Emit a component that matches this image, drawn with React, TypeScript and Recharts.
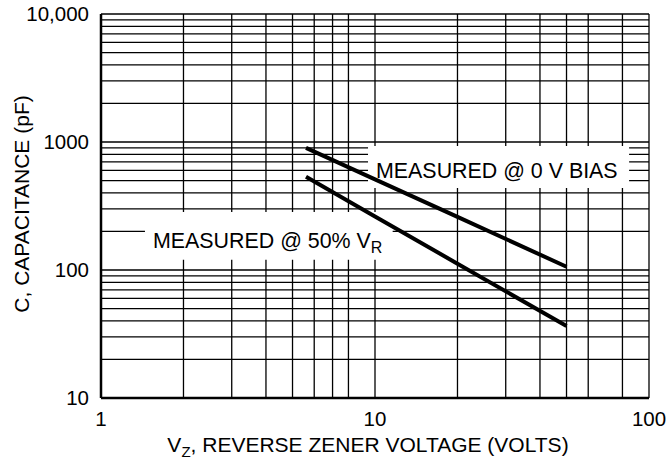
import { CartesianGrid, Line, LineChart, ReferenceArea, XAxis, YAxis } from "recharts";

const FONT = "'Liberation Sans', Arial, sans-serif";

// readings
const voltage = [5.6, 10, 20, 50];
const cap0V = [900, 510, 260, 106];
const cap50 = [536, 262, 112, 36.5];

const xTicks = [1, 10, 100];
const yTicks = [10, 100, 1000, 10000];

// log grid: 1..9 in each decade
const steps = [2, 3, 4, 5, 6, 7, 8, 9, 10];
const xGrid = [1, 10].flatMap((d) => steps.map((s) => s * d));
const yGrid = [10, 100, 1000].flatMap((d) => steps.map((s) => s * d));

const upper = voltage.map((v, i) => ({ v, c: cap0V[i] }));
const lower = voltage.map((v, i) => ({ v, c: cap50[i] }));

const fmtY = (v: number) => (v === 10000 ? "10,000" : String(v));

export default function App() {
  return (
    <div style={{ position: "absolute", left: 0, top: 0, background: "#fff" }}>
      <LineChart width={666} height={459} margin={{ top: 14, right: 17, bottom: 1, left: 41 }}>
        <CartesianGrid stroke="#000" strokeWidth={1.3} yAxisId="grid" verticalValues={xGrid} />
        <XAxis
          type="number"
          dataKey="v"
          scale="log"
          domain={[1, 100]}
          ticks={xTicks}
          allowDataOverflow
          height={60}
          tickLine={false}
          tickSize={0}
          tickMargin={13}
          axisLine={{ stroke: "#000", strokeWidth: 2.5 }}
          tick={{ fontSize: 20.5, fill: "#000", fontFamily: FONT }}
          label={{
            content: ({ viewBox }: any) => (
              <text
                x={viewBox.x + viewBox.width / 2 - 7}
                y={viewBox.y + 54}
                textAnchor="middle"
                fontSize={21}
                fontFamily={FONT}
                fill="#000"
              >
                V<tspan fontSize={15} dy={5}>Z</tspan>
                <tspan dy={-5}>, REVERSE ZENER VOLTAGE (VOLTS)</tspan>
              </text>
            ),
          }}
        />
        <YAxis
          yAxisId="grid"
          type="number"
          scale="log"
          domain={[10, 10000]}
          ticks={yGrid}
          interval={0}
          allowDataOverflow
          hide
        />
        <YAxis
          type="number"
          scale="log"
          domain={[10, 10000]}
          ticks={yTicks}
          allowDataOverflow
          width={60}
          tickLine={false}
          tickSize={0}
          tickMargin={12}
          tickFormatter={fmtY}
          axisLine={{ stroke: "#000", strokeWidth: 2.5 }}
          tick={{ fontSize: 20.5, fill: "#000", fontFamily: FONT }}
          label={{
            content: ({ viewBox }: any) => {
              const x = viewBox.x - 12;
              const y = viewBox.y + viewBox.height / 2 - 2;
              return (
                <text
                  x={x}
                  y={y}
                  transform={`rotate(-90 ${x} ${y})`}
                  textAnchor="middle"
                  fontSize={21}
                  fontFamily={FONT}
                  fill="#000"
                >
                  C, CAPACITANCE (pF)
                </text>
              );
            },
          }}
        />
        <ReferenceArea
          x1={9.43}
          x2={84.6}
          y1={437}
          y2={931}
          fill="#fff"
          fillOpacity={1}
          stroke="none"
          label={{
            content: ({ viewBox }: any) => (
              <text x={viewBox.x + 8} y={viewBox.y + 32} fontSize={21.4} fontFamily={FONT} fill="#000">
                MEASURED @ 0 V BIAS
              </text>
            ),
          }}
        />
        <ReferenceArea
          x1={1.447}
          x2={11.6}
          y1={120}
          y2={284}
          fill="#fff"
          fillOpacity={1}
          stroke="none"
          label={{
            content: ({ viewBox }: any) => (
              <text x={viewBox.x + 8} y={viewBox.y + 36} fontSize={21.4} fontFamily={FONT} fill="#000">
                MEASURED @ 50% V<tspan fontSize={16} dy={5}>R</tspan>
              </text>
            ),
          }}
        />
        <Line
          data={upper}
          dataKey="c"
          type="linear"
          stroke="#000"
          strokeWidth={4}
          dot={false}
          isAnimationActive={false}
        />
        <Line
          data={lower}
          dataKey="c"
          type="linear"
          stroke="#000"
          strokeWidth={4}
          dot={false}
          isAnimationActive={false}
        />
      </LineChart>
    </div>
  );
}
